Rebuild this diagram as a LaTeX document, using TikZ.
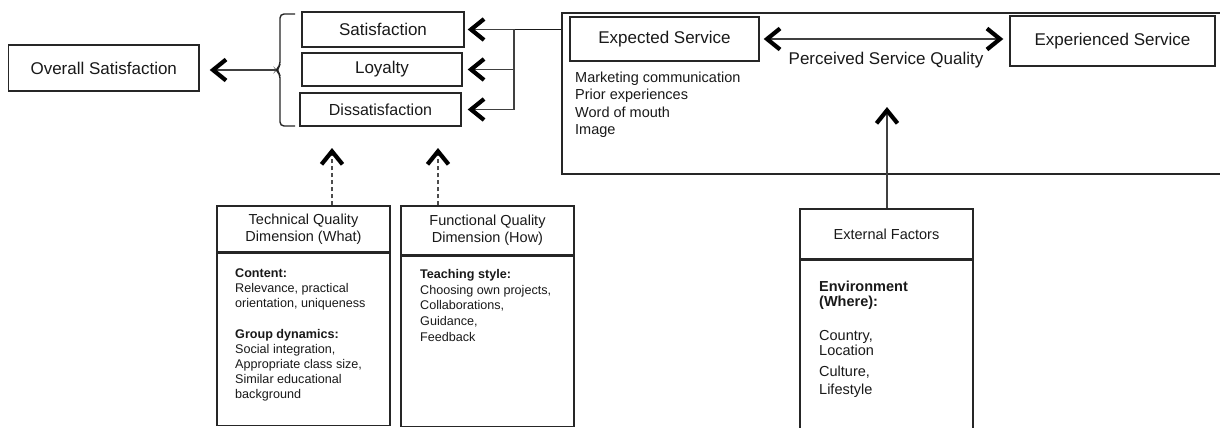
\documentclass[tikz,border=0pt]{standalone}
\usepackage{fontspec}
\setmainfont{Liberation Sans}
\usepackage{tikz}
\usetikzlibrary{arrows.meta,positioning}
\tikzstyle{outcomeNode}=[rectangle, draw=black!85, line width=1.4pt, inner sep=0pt,
  text=black!90, font=\fontsize{17}{20}\selectfont]
\tikzstyle{headNode}=[rectangle, draw=black!85, line width=1.4pt, inner sep=0pt,
  minimum width=173pt, align=center, text=black!90, font=\fontsize{14.5}{17}\selectfont]
\tikzstyle{bodyNode}=[rectangle, draw=black!85, line width=1.4pt, inner sep=0pt, minimum width=173pt]
\tikzstyle{listText}=[anchor=north west, inner sep=0pt, align=left, text=black!90]
\tikzstyle{link}=[line width=1.2pt, draw=black!75]
\tikzstyle{dashLink}=[line width=1.2pt, draw=black!70, dash pattern=on 4pt off 3pt]

\begin{document}
\begin{tikzpicture}[x=1pt, y=-1pt,
  >={Straight Barb[length=13pt,width=21pt,line width=4.2pt 0,color=black]}]
\useasboundingbox (0,0) rectangle (1220,428);
\clip (0,0) rectangle (1220,428);
% outcome side
\node[outcomeNode, minimum width=190.5pt, minimum height=46pt] (overall) at (103.75,68) {Overall Satisfaction};
\node[outcomeNode, minimum width=162pt, minimum height=35pt] (sat) at (383,29.5) {Satisfaction};
\node[outcomeNode, minimum width=160pt, minimum height=33pt] (loy) at (382,69.5) {Loyalty};
\node[outcomeNode, minimum width=161pt, minimum height=33pt, font=\fontsize{16}{19}\selectfont] (dis) at (380.5,109.5) {Dissatisfaction};
\coordinate (braceTip) at (276,70);
\draw[draw=black!85, line width=1.4pt, rounded corners=4pt]
  (295,14) -- (280,14) -- (280,66) -- (braceTip) -- (280,74) -- (280,126) -- (295,126);
% service quality frame
\node[outcomeNode, line width=1.5pt, minimum width=678pt, minimum height=161pt] (frame) at (901,93.5) {};
\node[outcomeNode, minimum width=189pt, minimum height=44pt] (expected) at (664.5,39) {Expected Service};
\node[outcomeNode, minimum width=205pt, minimum height=50pt] (experienced) at (1112.5,41) {Experienced Service};
\node[text=black!90, font=\fontsize{17}{20}\selectfont] (pq) at (886,60) {Perceived Service Quality};
\node[listText, font=\fontsize{14.5}{17.5}\selectfont] (sources) at (575,71.5)
  {Marketing communication\\Prior experiences\\Word of mouth\\Image};
% quality dimensions
\node[headNode, minimum height=46pt] (techHead) at (303.5,229) {Technical Quality\\Dimension (What)};
\node[bodyNode, minimum height=172pt, below=0pt of techHead] (techBody) {};
\node[listText, font=\fontsize{12.6}{15}\selectfont] (techText) at (235,268.5)
  {\textbf{Content:}\\Relevance, practical\\orientation, uniqueness\\[16pt]
   \textbf{Group dynamics:}\\Social integration,\\Appropriate class size,\\Similar educational\\background};
\node[headNode, minimum height=49pt] (funcHead) at (487.5,230.5) {Functional Quality\\Dimension (How)};
\node[bodyNode, minimum height=170pt, below=0pt of funcHead] (funcBody) {};
\node[listText, font=\fontsize{12.6}{15.7}\selectfont] (funcText) at (420,269)
  {\textbf{Teaching style:}\\Choosing own projects,\\Collaborations,\\Guidance,\\Feedback};
\node[headNode, minimum height=50pt] (extHead) at (886.5,234) {External Factors};
\node[bodyNode, minimum height=200pt, below=0pt of extHead] (extBody) {};
\node[listText, font=\fontsize{14.5}{15}\selectfont] (extText) at (819,280.5)
  {\textbf{Environment}\\\textbf{(Where):}\\[19pt]Country,\\Location\\[6pt]Culture,\\[3pt]Lifestyle};
% connectors
\coordinate (junction) at (514,29.5);
\draw[link, line width=1.8pt, draw=black!90] (frame.west |- sat.east) -- (junction);
\draw[link, ->, shorten >=3pt] (junction) -- (sat.east);
\draw[link, ->, shorten >=5pt] (junction |- loy.east) -- (loy.east);
\draw[link, ->, shorten >=6pt] (junction) |- (dis.east);
\draw[link, ->, shorten >=10pt] (braceTip) -- (braceTip -| overall.east);
\draw[link, <->, shorten <=4pt, shorten >=6pt] (expected.east) -- (expected.east -| experienced.west);
\coordinate (qualTip) at (887,107);
\draw[link, ->] (qualTip |- extHead.north) -- (qualTip);
\coordinate (techTip) at (332,148);
\coordinate (funcTip) at (438,148);
\draw[dashLink, ->] (techTip |- techHead.north) -- (techTip);
\draw[dashLink, ->] (funcTip |- funcHead.north) -- (funcTip);
\end{tikzpicture}
\end{document}
